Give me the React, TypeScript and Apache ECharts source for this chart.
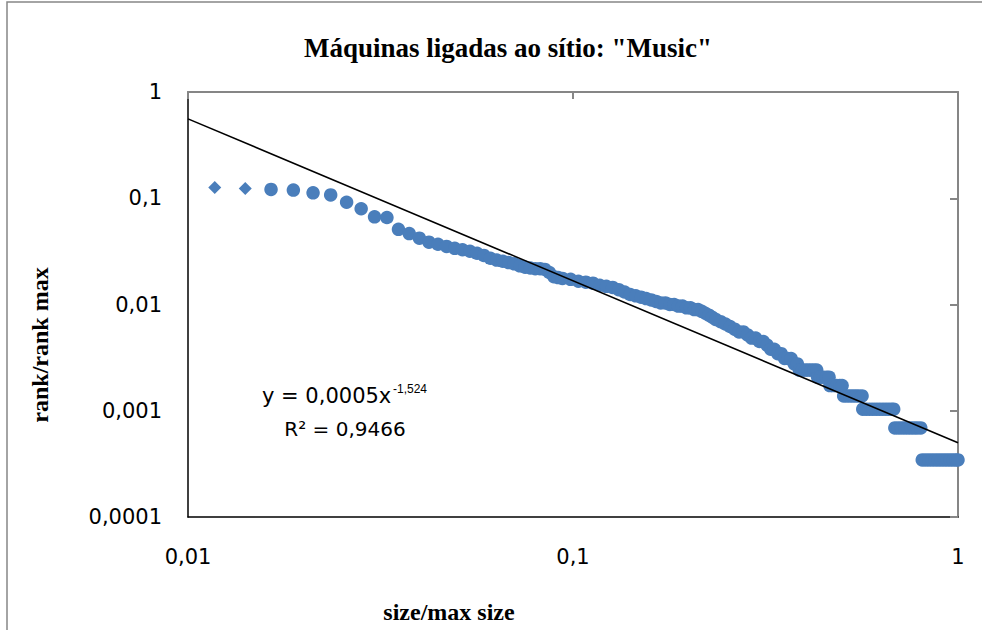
import React, { useEffect, useRef } from 'react';
import * as echarts from 'echarts';

const titleText = 'Máquinas ligadas ao sítio: "Music"';
const xAxisTitle = 'size/max size';
const yAxisTitle = 'rank/rank max';
const xTickLabels: Record<string, string> = { '-2': '0,01', '-1': '0,1', '0': '1' };
const yTickLabels: Record<string, string> = { '-4': '0,0001', '-3': '0,001', '-2': '0,01', '-1': '0,1', '0': '1' };

const maxSize = 426;
const rankMax = 2900;

const diamondSizes = [5, 6];
const diamondRanks = [366, 359];

const circleSizes = [
  7, 8, 9, 10, 11, 12, 13, 14, 15, 16, 17, 18, 19, 20, 21, 22, 23, 24, 25, 26, 27, 28, 29, 30,
  31, 32, 33, 34, 35, 36, 37, 38, 39, 40, 42, 44, 46, 48, 50, 52, 54, 56, 58, 60, 62, 64, 66, 68,
  70, 72, 74, 76, 78, 80, 82, 84, 86, 88, 90, 92, 94, 96, 98, 100, 103, 106, 109, 112, 115, 118,
  121, 124, 127, 130, 133, 136, 139, 142, 145, 148, 151, 154, 157, 160, 163,
  165, 168, 171, 174, 177, 180, 183,
  184, 187, 190, 194, 197,
  198, 202, 206, 210, 213,
  215, 219, 223, 227, 231, 235, 240,
  241, 246, 251, 256, 261, 266, 271, 276, 281, 286, 290,
  292, 298, 304, 310, 316, 322, 328, 334, 341,
  344, 351, 358, 365, 372, 379, 386, 393, 400, 407, 414, 421, 426,
];
const circleRanks = [
  351, 346, 326, 312, 266, 231, 194, 191, 148, 135, 122, 112, 107, 102, 98, 95, 92, 88, 84, 79, 76, 74, 72, 70,
  67, 65, 64, 63, 63, 62, 58, 53, 52, 51, 50, 48, 47, 46, 44, 43, 42, 40, 38, 36, 35, 34, 33, 32,
  31, 30, 30, 29, 29, 28, 28, 27, 27, 26, 26, 25, 24, 23, 22, 21, 20, 19, 18, 17, 16, 16,
  15, 14, 14, 13, 13, 12, 11, 11, 10, 10, 9, 9, 9, 8, 8,
  7, 7, 7, 7, 7, 7, 7,
  6, 6, 6, 6, 6,
  5, 5, 5, 5, 5,
  4, 4, 4, 4, 4, 4, 4,
  3, 3, 3, 3, 3, 3, 3, 3, 3, 3, 3,
  2, 2, 2, 2, 2, 2, 2, 2, 2,
  1, 1, 1, 1, 1, 1, 1, 1, 1, 1, 1, 1, 1,
];

const trendCoef = 0.0005;
const trendExp = -1.524;
const trendXRange = [0.01, 1];
const equationMain = 'y = 0,0005x';
const equationSup = '-1,524';
const r2Text = 'R² = 0,9466';

const markerColor = '#4A7EBB';
const tickFont = 'DejaVu Sans';
const serifFont = 'Liberation Serif';

const logLabel = (map: Record<string, string>) => (v: number) => {
  const k = String(Math.round(Math.log10(v)));
  return map[k] ?? '';
};

export default function App() {
  const ref = useRef<HTMLDivElement>(null);
  useEffect(() => {
    document.body.style.margin = '0';
    if (!ref.current) return;
    const chart = echarts.init(ref.current, undefined, { renderer: 'svg' });
    const diamondData = diamondSizes.map((s, i) => [s / maxSize, diamondRanks[i] / rankMax]);
    const circleData = circleSizes.map((s, i) => [s / maxSize, circleRanks[i] / rankMax]);
    const trendData = trendXRange.map((x) => [x, trendCoef * Math.pow(x, trendExp)]);

    const axisCommon = {
      type: 'log' as const,
      logBase: 10,
      splitLine: { show: false },
      minorTick: { show: false },
    };

    chart.setOption({
      animation: false,
      title: {
        text: titleText,
        left: 503,
        top: 29,
        textAlign: 'center',
        textStyle: { fontFamily: serifFont, fontWeight: 'bold', fontSize: 27, color: '#000' },
      },
      grid: { left: 188, top: 92, right: 24, bottom: 113, containLabel: false },
      xAxis: [
        {
          ...axisCommon,
          position: 'bottom',
          min: 0.01,
          max: 1,
          axisLine: { show: true, lineStyle: { color: '#000', width: 1.5 } },
          axisTick: { show: false },
          axisLabel: {
            formatter: logLabel(xTickLabels),
            fontFamily: tickFont,
            fontSize: 21,
            color: '#000',
            margin: 29,
          },
        },
        {
          ...axisCommon,
          position: 'top',
          min: 0.01,
          max: 1,
          axisLine: { show: true, lineStyle: { color: '#868686', width: 2 } },
          axisTick: { show: true, inside: true, length: 7, lineStyle: { color: '#868686', width: 2 } },
          axisLabel: { show: false },
        },
      ],
      yAxis: [
        {
          ...axisCommon,
          position: 'left',
          min: 0.0001,
          max: 1,
          axisLine: { show: true, lineStyle: { color: '#000', width: 1.5 } },
          axisTick: { show: false },
          axisLabel: {
            formatter: logLabel(yTickLabels),
            fontFamily: tickFont,
            fontSize: 21,
            color: '#000',
            margin: 26,
          },
        },
        {
          ...axisCommon,
          position: 'right',
          min: 0.0001,
          max: 1,
          axisLine: { show: true, lineStyle: { color: '#868686', width: 2 } },
          axisTick: { show: true, inside: true, length: 8, lineStyle: { color: '#868686', width: 2 } },
          axisLabel: { show: false },
        },
      ],
      series: [
        {
          type: 'scatter',
          name: 'diamonds',
          xAxisIndex: 0,
          yAxisIndex: 0,
          symbol: 'diamond',
          symbolSize: 13,
          itemStyle: { color: markerColor, opacity: 1 },
          data: diamondData,
          z: 2,
        },
        {
          type: 'scatter',
          name: 'points',
          xAxisIndex: 0,
          yAxisIndex: 0,
          symbol: 'circle',
          symbolSize: 13.5,
          itemStyle: { color: markerColor, opacity: 1 },
          data: circleData,
          z: 2,
        },
        {
          type: 'line',
          name: 'trend',
          xAxisIndex: 0,
          yAxisIndex: 0,
          showSymbol: false,
          symbol: 'none',
          lineStyle: { color: '#000', width: 1.6 },
          data: trendData,
          z: 3,
        },
      ],
      graphic: [
        {
          type: 'rect',
          shape: { x: 7, y: 2, width: 1000, height: 700 },
          style: { fill: 'none', stroke: '#868686', lineWidth: 1.5 },
          silent: true,
          z: -1,
        },
        {
          type: 'text',
          x: 40,
          y: 345,
          rotation: Math.PI / 2,
          style: {
            text: yAxisTitle,
            fontFamily: serifFont,
            fontWeight: 'bold',
            fontSize: 24,
            fill: '#000',
            align: 'center',
            verticalAlign: 'middle',
          },
        },
        {
          type: 'text',
          x: 449,
          y: 612,
          style: {
            text: xAxisTitle,
            fontFamily: serifFont,
            fontWeight: 'bold',
            fontSize: 24,
            fill: '#000',
            align: 'center',
            verticalAlign: 'middle',
          },
        },
        {
          type: 'text',
          x: 262,
          y: 396,
          style: {
            text: equationMain,
            fontFamily: tickFont,
            fontSize: 21,
            fill: '#000',
            align: 'left',
            verticalAlign: 'middle',
          },
        },
        {
          type: 'text',
          x: 393,
          y: 389,
          style: {
            text: equationSup,
            fontFamily: 'Liberation Sans',
            fontSize: 12,
            fill: '#000',
            align: 'left',
            verticalAlign: 'middle',
          },
        },
        {
          type: 'text',
          x: 345,
          y: 429,
          style: {
            text: r2Text,
            fontFamily: tickFont,
            fontSize: 20,
            fill: '#000',
            align: 'center',
            verticalAlign: 'middle',
          },
        },
      ],
    });
    return () => chart.dispose();
  }, []);
  return <div ref={ref} style={{ width: 982, height: 630 }} />;
}
